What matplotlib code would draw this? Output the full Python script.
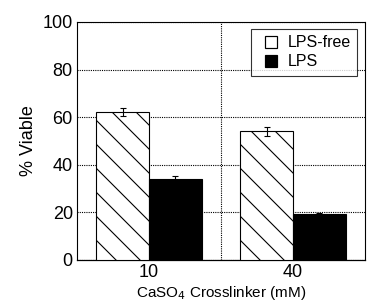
import numpy as np
import matplotlib
matplotlib.use("Agg")
import matplotlib.pyplot as plt
from matplotlib.lines import Line2D

# data
groups = ["10", "40"]
lps_free = [62.2, 54.0]
lps_free_err = [1.8, 2.0]
lps = [33.9, 19.3]
lps_err = [1.4, 0.5]

# render at 72 dpi so the hatch cell is 72 px (tighter hatching);
# k converts sizes meant for 100 dpi
DPI = 72
k = 100 / 72

plt.rcParams['font.family'] = ['Liberation Sans', 'DejaVu Sans']
plt.rcParams['hatch.linewidth'] = 0.8 * k

fig = plt.figure(figsize=(367 / DPI, 307 / DPI), dpi=DPI)
ax = fig.add_axes([77/367, 47/307, 288/367, 238/307])

lw = 0.8 * k
ekw = dict(elinewidth=lw, capsize=2.5 * k, capthick=lw, ecolor='black')
x = np.arange(len(groups))
w = 0.365
ax.bar(x - w/2, lps_free, w, yerr=lps_free_err, color='white', edgecolor='black',
       hatch='\\', linewidth=lw, zorder=3, error_kw=ekw)
ax.bar(x + w/2, lps, w, yerr=lps_err, color='black', edgecolor='black',
       linewidth=lw, zorder=3, error_kw=ekw)

ax.set_xlim(-0.5, 1.5)
ax.set_ylim(0, 100)
ax.set_xticks(x)
ax.set_xticklabels(groups)
ax.set_yticks([0, 20, 40, 60, 80, 100])
ax.tick_params(length=0, labelsize=13 * k, pad=3 * k)

# dotted grid
ax.set_axisbelow(True)
ax.yaxis.grid(True, linestyle=(0, (1, 1)), color='black', linewidth=lw)
ax.axvline(0.5, linestyle=(0, (1, 1)), color='black', linewidth=lw, zorder=1)
for s in ['left', 'right', 'top']:
    ax.spines[s].set_linestyle((0, (1, 1)))
    ax.spines[s].set_linewidth(lw)
ax.spines['bottom'].set_linewidth(0.9 * k)

ax.set_ylabel('% Viable', fontsize=13 * k, labelpad=4 * k)
ax.set_xlabel('CaSO$_4$ Crosslinker (mM)', fontsize=11 * k, labelpad=2 * k)

# square marker handles, like the reference legend
handles = [
    Line2D([], [], linestyle='none', marker='s', markersize=12.5,
           markerfacecolor='white', markeredgecolor='black', markeredgewidth=1.2),
    Line2D([], [], linestyle='none', marker='s', markersize=12.5,
           markerfacecolor='black', markeredgecolor='black', markeredgewidth=1.2),
]
leg = ax.legend(handles, ['LPS-free', 'LPS'], loc='upper right', fontsize=11.5 * k,
                frameon=True, fancybox=False, edgecolor='black',
                handlelength=1.75, handletextpad=0.15, borderpad=0.4,
                labelspacing=0.25, borderaxespad=0,
                bbox_to_anchor=(0.972, 0.971))
leg.get_frame().set_linewidth(lw)

fig.savefig('out.png', dpi=DPI)
